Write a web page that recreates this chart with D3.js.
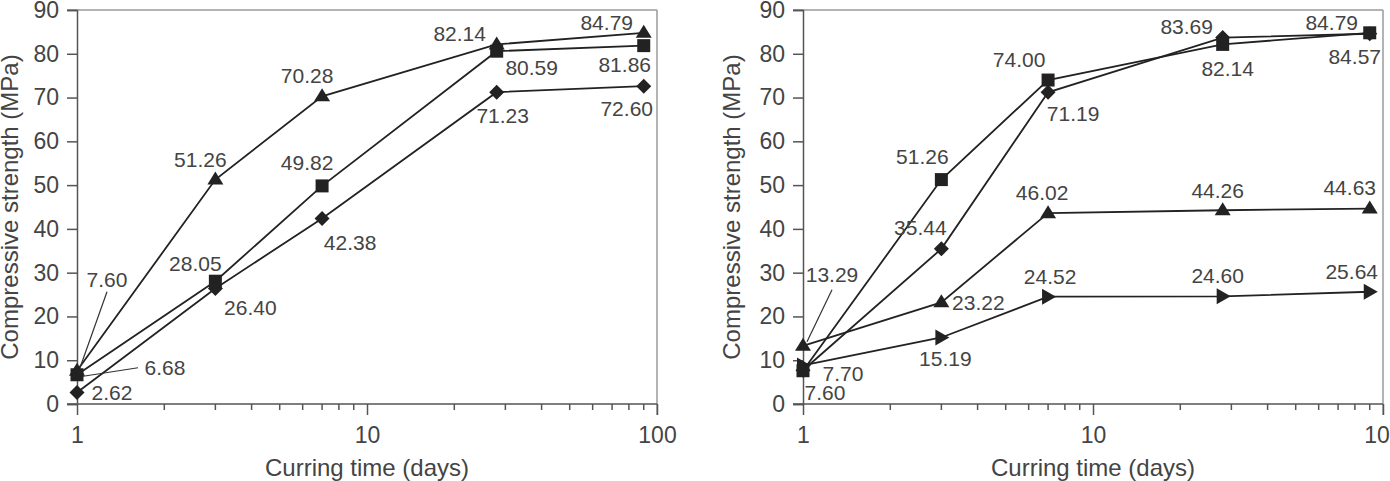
<!DOCTYPE html>
<html><head><meta charset="utf-8">
<script src="https://cdn.jsdelivr.net/npm/d3@7"></script>
<style>
html,body{margin:0;padding:0;background:#fff;}
svg{display:block;}
text{font-family:"Liberation Sans",Arial,sans-serif;fill:#444;}
</style></head>
<body>
<svg id="chart" width="1390" height="481"></svg>
<script>
// ---- data ----
const days = [1, 3, 7, 28, 90];
const xTicks = [1, 10, 100];
const yTicks = [0, 10, 20, 30, 40, 50, 60, 70, 80, 90];
const xTitle = "Curring time (days)";
const yTitle = "Compressive strength (MPa)";

// left panel
const leftTriangle = [7.60, 51.26, 70.28, 82.14, 84.79];
const leftSquare   = [6.68, 28.05, 49.82, 80.59, 81.86];
const leftDiamond  = [2.62, 26.40, 42.38, 71.23, 72.60];
const leftTriangleLabels = ["7.60", "51.26", "70.28", "82.14", "84.79"];
const leftSquareLabels   = ["6.68", "28.05", "49.82", "80.59", "81.86"];
const leftDiamondLabels  = ["2.62", "26.40", "42.38", "71.23", "72.60"];

// right panel
const rightSquare   = [7.60, 51.26, 74.00, 82.14, 84.79];
const rightDiamond  = [7.70, 35.44, 71.19, 83.69, 84.57];
const rightTriangle = [13.29, 23.22, 43.6, 44.26, 44.63];
const rightArrow    = [8.8, 15.19, 24.52, 24.60, 25.64];
const rightSquareLabels   = ["7.60", "51.26", "74.00", "82.14", "84.79"];
const rightDiamondLabels  = ["7.70", "35.44", "71.19", "83.69", "84.57"];
const rightTriangleLabels = ["13.29", "23.22", "46.02", "44.26", "44.63"];
const rightArrowLabels    = [null, "15.19", "24.52", "24.60", "25.64"];

// ---- layout (label offsets relative to marker, px) ----
const layout = {
  left: {
    x0: 77, x1: 657, titleBase: 18,
    series: [
      {values: leftTriangle, labels: leftTriangleLabels, shape: "tri",
       off: [[30,-91],[-15,-20],[-15,-21],[-37,-11],[-37,-10]],
       leaders: {0: [[30,-79],[3,-3]]}},
      {values: leftSquare, labels: leftSquareLabels, shape: "sq",
       off: [[88,-7],[-20,-18],[-15,-23],[35,16],[-19,19]],
       leaders: {0: [[61,-7],[3,2]]}},
      {values: leftDiamond, labels: leftDiamondLabels, shape: "dia",
       off: [[35,0],[35,19],[28,24],[6,23],[-17,22]], leaders: {}}
    ]
  },
  right: {
    x0: 803, x1: 1383, titleBase: 740,
    series: [
      {values: rightArrow, labels: rightArrowLabels, shape: "arrow",
       off: [[0,0],[4,21],[2,-20],[-5,-21],[-18,-20]], leaders: {}},
      {values: rightTriangle, labels: rightTriangleLabels, shape: "tri",
       off: [[29,-71],[37,0],[-6,-20],[-5,-20],[-20,-21]],
       leaders: {0: [[29,-56],[4,-4]]}},
      {values: rightDiamond, labels: rightDiamondLabels, shape: "dia",
       off: [[40,3],[-21,-21],[25,21],[-36,-11],[-15,23]], leaders: {}},
      {values: rightSquare, labels: rightSquareLabels, shape: "sq",
       off: [[22,22],[-19,-23],[-29,-20],[5,24],[-38,-10]], leaders: {}}
    ]
  }
};

const yTop = 10, yBot = 404;
const shapes = {
  tri: "M0,-8L8,5L-8,5Z",
  sq: "M-6.5,-6.5H6.5V6.5H-6.5Z",
  dia: "M0,-7.5L7.5,0L0,7.5L-7.5,0Z",
  arrow: "M-6,-8L8,0L-6,8Z"
};

const svg = d3.select("#chart");

function drawPanel(cfg) {
  const x = d3.scaleLog().domain([1, 100]).range([cfg.x0, cfg.x1]);
  const y = d3.scaleLinear().domain([0, 90]).range([yBot, yTop]);
  const g = svg.append("g");

  // frame top/right
  g.append("line").attr("x1", cfg.x0 - 10).attr("x2", cfg.x1).attr("y1", yTop).attr("y2", yTop)
    .attr("stroke", "#9a9a9a").attr("stroke-width", 1.5);
  g.append("line").attr("x1", cfg.x1).attr("x2", cfg.x1).attr("y1", yTop).attr("y2", yBot + 11)
    .attr("stroke", "#9a9a9a").attr("stroke-width", 1.5);

  // y axis
  const yAx = g.append("g").attr("transform", `translate(${cfg.x0},0)`)
    .call(d3.axisLeft(y).tickValues(yTicks).tickSize(10).tickPadding(8).tickFormat(d3.format("d")));
  yAx.select(".domain").attr("stroke", "#555").attr("stroke-width", 1.5);
  yAx.selectAll(".tick line").attr("stroke", "#555").attr("stroke-width", 1.5);
  yAx.selectAll(".tick text").attr("font-size", 23).attr("fill", "#444")
    .attr("font-family", "Liberation Sans, Arial, sans-serif");

  // x axis major
  const xAx = g.append("g").attr("transform", `translate(0,${yBot})`)
    .call(d3.axisBottom(x).tickValues(xTicks).tickSize(11).tickPadding(12).tickFormat(d3.format("d")));
  xAx.select(".domain").attr("d", `M${cfg.x0 - 10},0H${cfg.x1}`).attr("stroke", "#555").attr("stroke-width", 1.5);
  xAx.selectAll(".tick line").attr("stroke", "#555").attr("stroke-width", 1.5);
  xAx.selectAll(".tick text").attr("font-size", 23).attr("fill", "#444")
    .attr("font-family", "Liberation Sans, Arial, sans-serif");
  // minor ticks
  const minor = [];
  [1, 10].forEach(b => { for (let k = 2; k <= 9; k++) minor.push(b * k); });
  g.selectAll(".minor").data(minor).join("line")
    .attr("x1", d => x(d)).attr("x2", d => x(d)).attr("y1", yBot).attr("y2", yBot + 6)
    .attr("stroke", "#555").attr("stroke-width", 1.5);

  // titles
  g.append("text").attr("x", (cfg.x0 + cfg.x1) / 2).attr("y", 476).attr("text-anchor", "middle")
    .attr("font-size", 24).text(xTitle);
  g.append("text").attr("transform", `translate(${cfg.titleBase},${(yTop + yBot) / 2}) rotate(-90)`)
    .attr("text-anchor", "middle").attr("font-size", 24).text(yTitle);

  const line = d3.line().x((d, i) => x(days[i])).y(d => y(d));
  // lines
  cfg.series.forEach(s => {
    g.append("path").attr("d", line(s.values)).attr("fill", "none")
      .attr("stroke", "#222").attr("stroke-width", 1.8);
  });
  // leaders
  cfg.series.forEach(s => {
    Object.keys(s.leaders).forEach(k => {
      const i = +k, px = x(days[i]), py = y(s.values[i]);
      const [[ax, ay], [bx, by]] = s.leaders[k];
      g.append("line").attr("x1", px + ax).attr("y1", py + ay).attr("x2", px + bx).attr("y2", py + by)
        .attr("stroke", "#333").attr("stroke-width", 1.2);
    });
  });
  // markers
  cfg.series.forEach(s => {
    g.selectAll(null).data(s.values).join("path")
      .attr("d", shapes[s.shape])
      .attr("transform", (d, i) => `translate(${x(days[i])},${y(d)})`)
      .attr("fill", "#222");
  });
  // labels
  cfg.series.forEach(s => {
    g.selectAll(null).data(s.values.map((v, i) => ({v, i}))).join("text")
      .filter(d => s.labels[d.i] != null)
      .attr("x", d => x(days[d.i]) + s.off[d.i][0])
      .attr("y", d => y(d.v) + s.off[d.i][1])
      .attr("dy", "0.35em")
      .attr("text-anchor", "middle")
      .attr("font-size", 21)
      .text(d => s.labels[d.i]);
  });
}

drawPanel(layout.left);
drawPanel(layout.right);
</script>
</body></html>
